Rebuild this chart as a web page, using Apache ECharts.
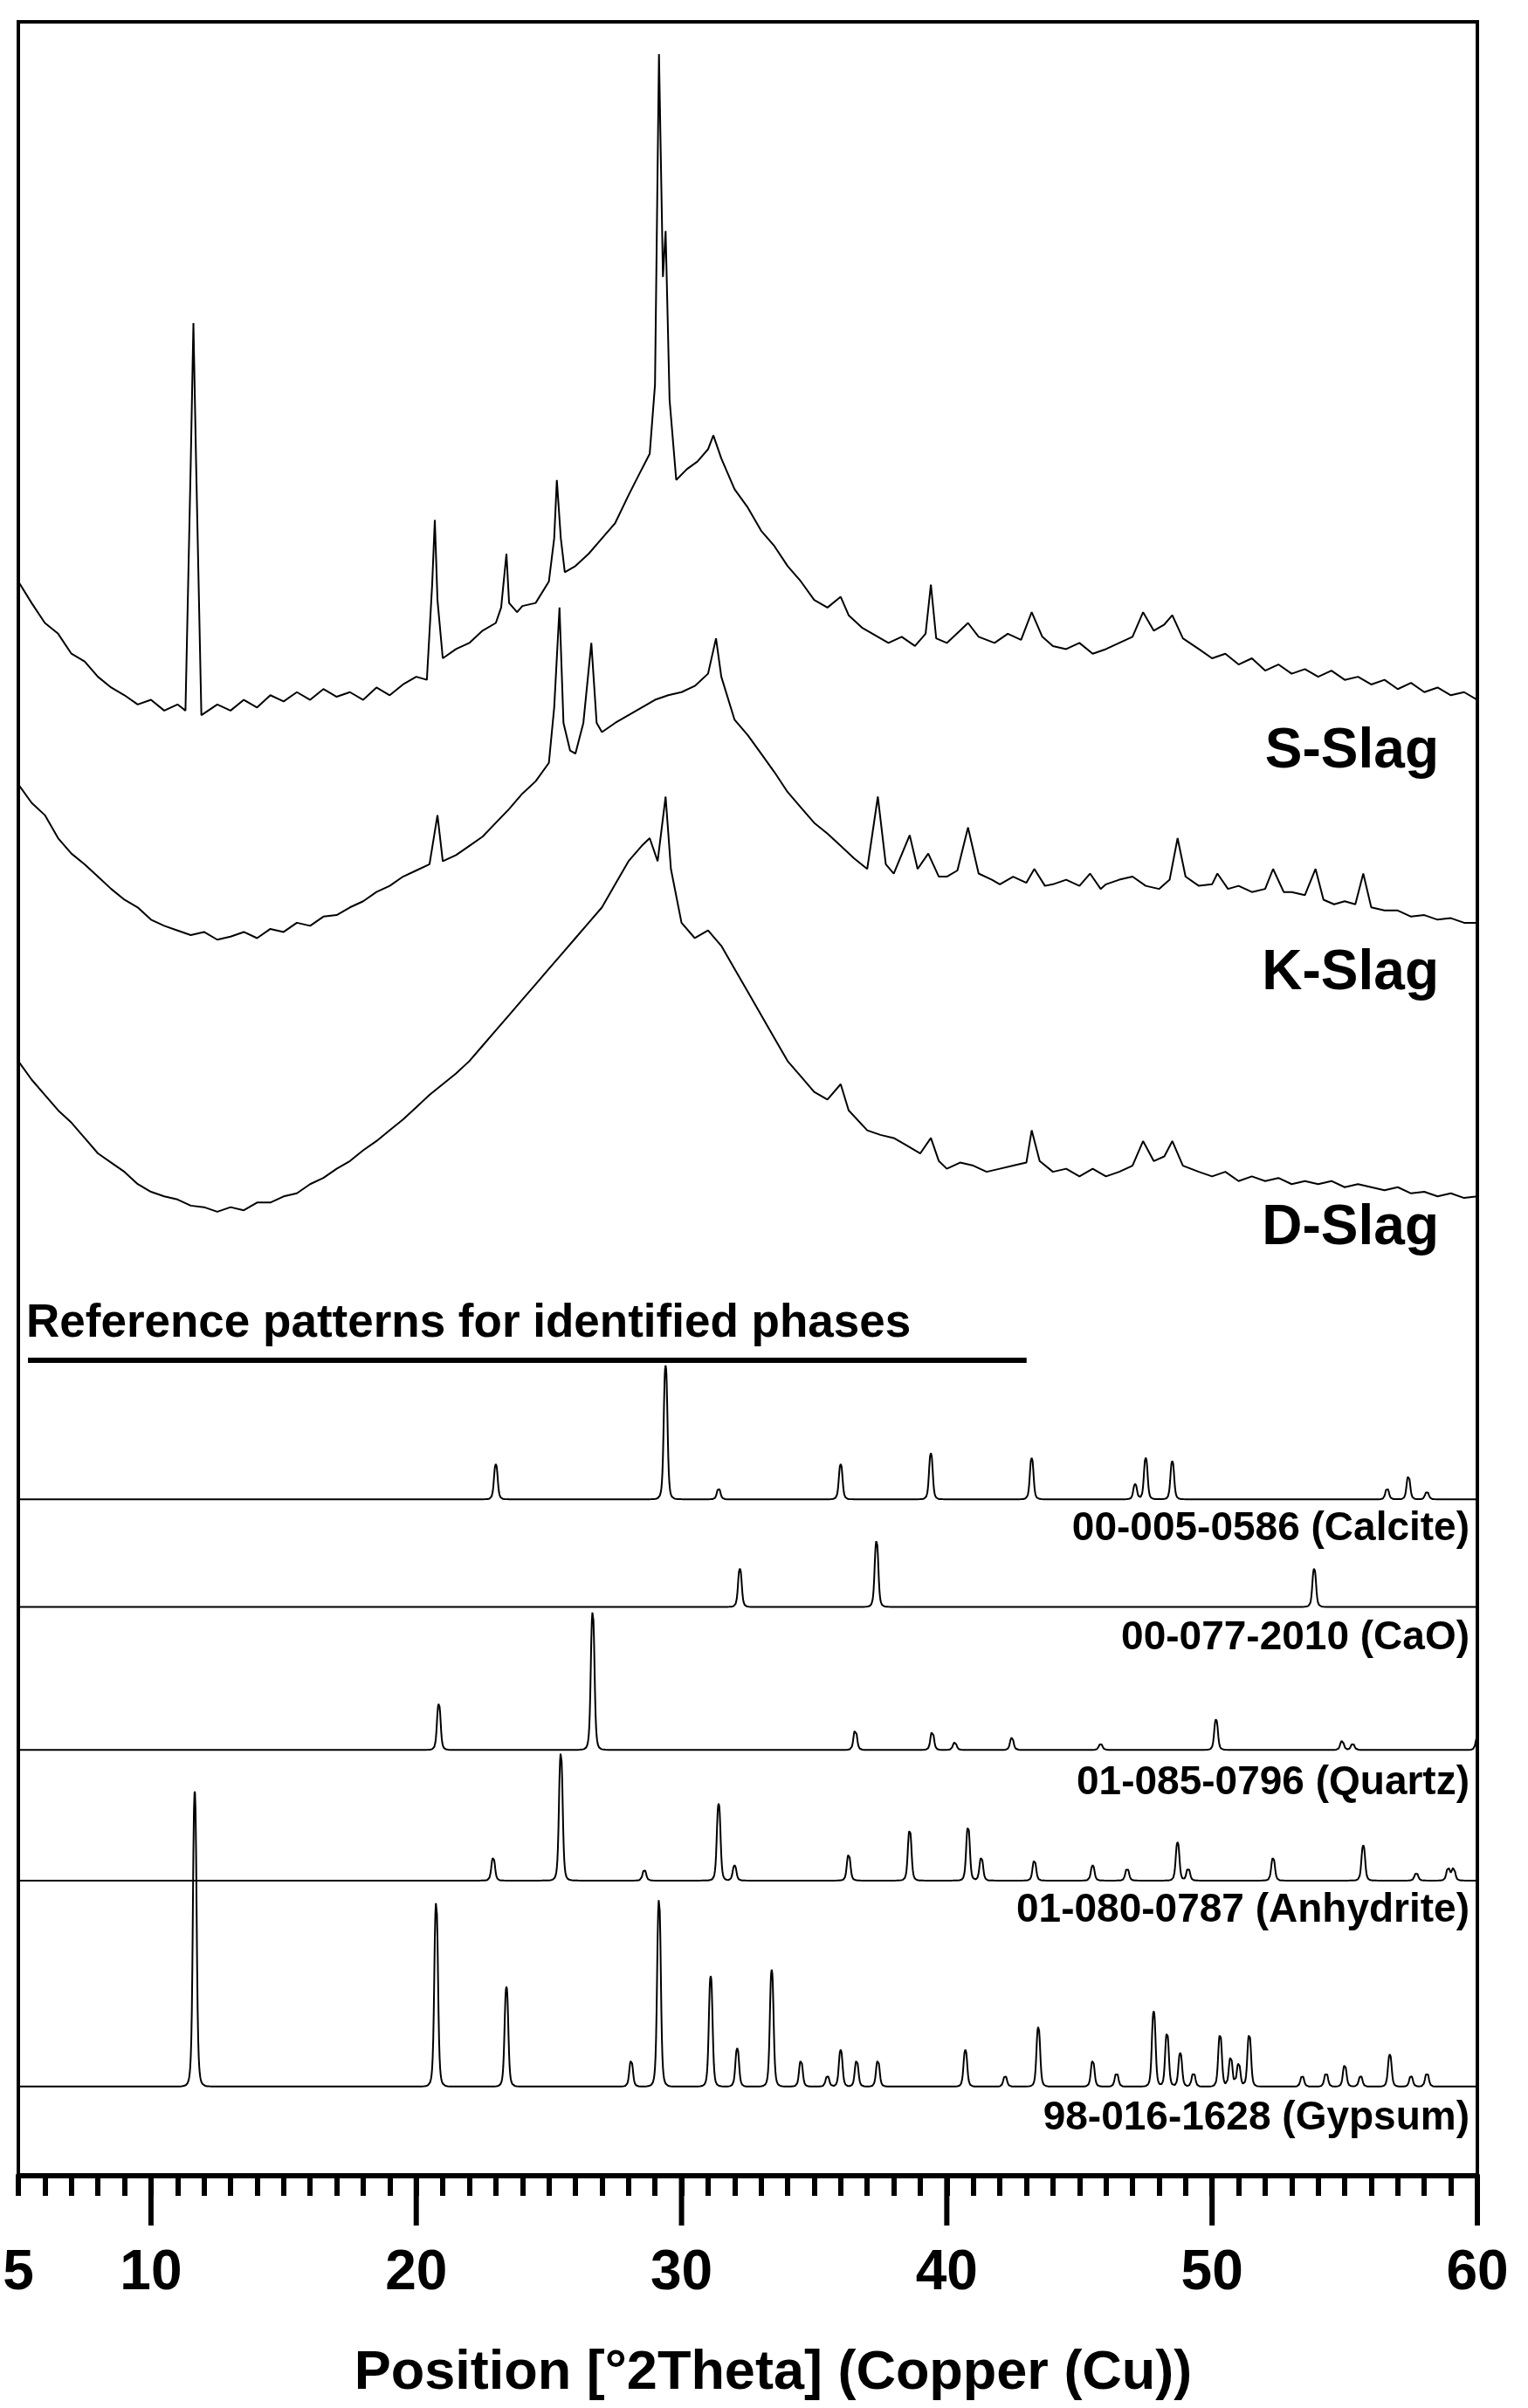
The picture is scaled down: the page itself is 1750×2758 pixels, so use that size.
<!DOCTYPE html>
<html><head><meta charset="utf-8">
<script src="https://cdn.jsdelivr.net/npm/echarts@6/dist/echarts.min.js"></script>
<style>html,body{margin:0;padding:0;background:#fff}#c{width:1750px;height:2758px}</style>
</head><body><div id="c"></div>
<script>
// vertical values are read as image-row positions (top=14, bottom=1415) of the reference
const sSlag=[[5,378],[5.5,392],[6,405],[6.5,412],[7,425],[7.5,430],[8,440],[8.5,447],[9,452],[9.5,458],[10,455],[10.5,462],[11,458],[11.3,462],[11.5,300],[11.6,210],[11.7,300],[11.9,465],[12.5,458],[13,462],[13.5,455],[14,460],[14.5,452],[15,456],[15.5,450],[16,455],[16.5,448],[17,453],[17.5,450],[18,455],[18.5,447],[19,452],[19.5,445],[20,440],[20.4,442],[20.6,380],[20.7,338],[20.8,390],[21,428],[21.5,422],[22,418],[22.5,410],[23,405],[23.2,395],[23.4,360],[23.5,392],[23.8,398],[24,394],[24.5,392],[25,378],[25.2,350],[25.3,312],[25.45,350],[25.6,372],[26,368],[26.5,360],[27,350],[27.5,340],[28,322],[28.5,305],[28.8,295],[29.0,250],[29.15,35],[29.3,180],[29.4,150],[29.55,260],[29.8,312],[30.2,305],[30.6,300],[31.0,292],[31.2,283],[31.5,298],[32,318],[32.5,330],[33,345],[33.5,355],[34,368],[34.5,378],[35,390],[35.5,395],[36,388],[36.3,400],[36.8,408],[37.2,412],[37.8,418],[38.3,414],[38.8,420],[39.2,412],[39.4,380],[39.6,415],[40,418],[40.5,410],[40.8,405],[41.2,414],[41.8,418],[42.3,412],[42.8,416],[43.2,398],[43.6,414],[44,420],[44.5,422],[45,418],[45.5,425],[46,422],[46.5,418],[47,414],[47.4,398],[47.8,410],[48.2,406],[48.5,400],[48.9,415],[49.5,422],[50,428],[50.5,425],[51,432],[51.5,428],[52,436],[52.5,432],[53,438],[53.5,435],[54,440],[54.5,436],[55,442],[55.5,440],[56,445],[56.5,442],[57,448],[57.5,444],[58,450],[58.5,447],[59,452],[59.5,450],[60,455]];
const kSlag=[[5,510],[5.5,522],[6,530],[6.5,545],[7,555],[7.5,562],[8,570],[8.5,578],[9,585],[9.5,590],[10,598],[10.5,602],[11,605],[11.5,608],[12,606],[12.5,611],[13,609],[13.5,606],[14,610],[14.5,604],[15,606],[15.5,600],[16,602],[16.5,596],[17,595],[17.5,590],[18,586],[18.5,580],[19,576],[19.5,570],[20,566],[20.5,562],[20.8,530],[21,560],[21.5,556],[22,550],[22.5,544],[23,535],[23.5,526],[24,516],[24.5,508],[25,496],[25.2,460],[25.4,395],[25.55,470],[25.8,488],[26,490],[26.3,470],[26.6,418],[26.8,470],[27,476],[27.5,470],[28,465],[28.5,460],[29,455],[29.5,452],[30,450],[30.5,446],[31,438],[31.3,415],[31.5,440],[32,468],[32.5,478],[33,490],[33.5,502],[34,515],[34.5,525],[35,535],[35.5,542],[36,550],[36.5,558],[37,565],[37.4,518],[37.7,562],[38,568],[38.6,543],[38.9,565],[39.3,555],[39.7,570],[40,570],[40.4,566],[40.8,538],[41.2,568],[41.7,572],[42,575],[42.5,570],[43,574],[43.3,565],[43.7,576],[44,575],[44.5,572],[45,576],[45.4,568],[45.8,578],[46,575],[46.5,572],[47,570],[47.5,576],[48,578],[48.4,572],[48.7,545],[49,570],[49.5,576],[50,575],[50.2,568],[50.6,578],[51,576],[51.5,580],[52,578],[52.3,565],[52.7,580],[53,580],[53.5,582],[53.9,565],[54.2,585],[54.6,588],[55,586],[55.4,588],[55.7,568],[56,590],[56.5,592],[57,592],[57.5,596],[58,595],[58.5,598],[59,597],[59.5,600],[60,600]];
const dSlag=[[5,690],[5.5,702],[6,712],[6.5,722],[7,730],[7.5,740],[8,750],[8.5,756],[9,762],[9.5,770],[10,775],[10.5,778],[11,780],[11.5,784],[12,785],[12.5,788],[13,785],[13.5,787],[14,782],[14.5,782],[15,778],[15.5,776],[16,770],[16.5,766],[17,760],[17.5,755],[18,748],[18.5,742],[19,735],[19.5,728],[20,720],[20.5,712],[21,705],[21.5,698],[22,690],[22.5,680],[23,670],[23.5,660],[24,650],[24.5,640],[25,630],[25.5,620],[26,610],[26.5,600],[27,590],[27.5,575],[28,560],[28.5,550],[28.8,545],[29.1,560],[29.4,518],[29.6,565],[30,600],[30.5,610],[31,605],[31.5,615],[32,630],[32.5,645],[33,660],[33.5,675],[34,690],[34.5,700],[35,710],[35.5,715],[36,705],[36.3,722],[37,735],[37.5,738],[38,740],[38.5,745],[39,750],[39.4,740],[39.7,755],[40,760],[40.5,756],[41,758],[41.5,762],[42,760],[42.5,758],[43,756],[43.2,735],[43.5,755],[44,762],[44.5,760],[45,765],[45.5,760],[46,765],[46.5,762],[47,758],[47.4,742],[47.8,755],[48.2,752],[48.5,742],[48.9,758],[49.5,762],[50,765],[50.5,762],[51,768],[51.5,765],[52,768],[52.5,766],[53,770],[53.5,768],[54,770],[54.5,768],[55,772],[55.5,770],[56,772],[56.5,774],[57,772],[57.5,776],[58,775],[58.5,778],[59,776],[59.5,779],[60,778]];
// reference patterns: baseline row and [position, peak row]
const calciteBase=975, calcitePeaks=[[23.0,952],[29.4,888],[31.4,968],[36.0,952],[39.4,945],[43.2,948],[47.1,965],[47.5,948],[48.5,950],[56.6,968],[57.4,960],[58.1,970]];
const caoBase=1045, caoPeaks=[[32.2,1020],[37.35,1002],[53.85,1020]];
const quartzBase=1138, quartzPeaks=[[20.85,1108],[26.65,1048],[36.55,1125],[39.45,1126],[40.3,1133],[42.45,1130],[45.8,1134],[50.15,1118],[54.9,1132],[55.3,1134],[60,1130]];
const anhydriteBase=1223, anhydritePeaks=[[22.9,1208],[25.45,1140],[28.6,1216],[31.4,1173],[32.0,1213],[36.3,1206],[38.6,1190],[40.8,1188],[41.3,1208],[43.3,1210],[45.5,1213],[46.8,1215],[48.7,1198],[49.1,1215],[52.3,1208],[55.7,1200],[57.7,1218],[58.9,1215],[59.1,1215]];
const gypsumBase=1357, gypsumPeaks=[[11.65,1165],[20.75,1237],[23.4,1292],[28.1,1340],[29.15,1235],[31.1,1285],[32.1,1332],[33.4,1281],[34.5,1340],[35.5,1350],[36.0,1333],[36.6,1340],[37.4,1340],[40.7,1333],[42.2,1350],[43.45,1318],[45.5,1340],[46.4,1348],[47.8,1308],[48.3,1322],[48.8,1335],[49.3,1348],[50.3,1323],[50.7,1338],[51.0,1342],[51.4,1323],[53.4,1350],[54.3,1348],[55.0,1343],[55.6,1350],[56.7,1336],[57.5,1350],[58.1,1348]];
const xTickLabels=[5,10,20,30,40,50,60];
const majorTicks=[10,20,30,40,50,60];
const labels=[
 {t:'S-Slag',y:493,s:64,r:102},{t:'K-Slag',y:637,s:64,r:102},{t:'D-Slag',y:803,s:64,r:102},
 {t:'00-005-0586 (Calcite)',y:997,s:46,r:67},{t:'00-077-2010 (CaO)',y:1068,s:46,r:67},
 {t:'01-085-0796 (Quartz)',y:1162,s:46,r:67},{t:'01-080-0787 (Anhydrite)',y:1245,s:46,r:67},
 {t:'98-016-1628 (Gypsum)',y:1380,s:46,r:67}];

function pattern(base,peaks){
  const xs=new Set();
  for(let i=0;i<=2750;i++) xs.add(+(5+i*0.02).toFixed(2));
  peaks.forEach(p=>[-0.06,-0.03,0,0.03,0.06].forEach(d=>xs.add(+(p[0]+d).toFixed(3))));
  const arr=[...xs].filter(x=>x>=5&&x<=60).sort((a,b)=>a-b);
  return arr.map(x=>{let y=base;peaks.forEach(p=>{const w=0.08,d=(x-p[0])/w;y-=(base-p[1])/(1+d*d*d*d*0.6+d*d*0.4);});return [x,y];});
}
const S=1750/993;
const ch=echarts.init(document.getElementById('c'),null,{renderer:'canvas'});
const L=21,R=1692,T=25,B=2492,W=R-L;
const ff='"Liberation Sans",Arial,sans-serif';
const line=(d,i)=>({type:'line',data:d,showSymbol:false,symbol:'none',lineStyle:{color:'#000',width:i||2},animation:false,z:3});
const graphics=labels.map(l=>({type:'text',right:l.r,top:(l.y)*S-l.s*0.62,style:{text:l.t,font:'bold '+l.s+'px '+ff,fill:'#000',textAlign:'right'}}));
graphics.push({type:'text',left:30,top:866*S-36,style:{text:'Reference patterns for identified phases',font:'bold 53px '+ff,fill:'#000'}});
graphics.push({type:'rect',shape:{x:32,y:884*S-3,width:(667-18)*S,height:6},style:{fill:'#000'}});
ch.setOption({
 animation:false,
 grid:{left:L,top:T,width:W,height:B-T,show:true,borderColor:'#000',borderWidth:4},
 xAxis:{type:'value',min:5,max:60,interval:1,position:'bottom',
   axisLine:{show:true,onZero:false,lineStyle:{color:'#000',width:6}},
   axisTick:{show:true,length:23,inside:false,lineStyle:{color:'#000',width:6}},
   axisLabel:{show:true,margin:80,formatter:v=>xTickLabels.includes(v)?String(v):'',color:'#000',fontSize:64,fontWeight:'bold',fontFamily:ff},
   splitLine:{show:false},
   name:'Position [°2Theta] (Copper (Cu))',nameLocation:'middle',nameGap:195,
   nameTextStyle:{color:'#000',fontSize:63,fontWeight:'bold',fontFamily:ff,padding:[0,0,0,58]}},
 yAxis:{type:'value',inverse:true,min:14,max:1415,show:false},
 graphic:graphics,
 series:[line(sSlag),line(kSlag),line(dSlag),
  line(pattern(calciteBase,calcitePeaks)),line(pattern(caoBase,caoPeaks)),
  line(pattern(quartzBase,quartzPeaks)),line(pattern(anhydriteBase,anhydritePeaks)),
  line(pattern(gypsumBase,gypsumPeaks)),
  {type:'custom',clip:false,z:5,data:majorTicks.map(v=>[v]),encode:{x:0},
   renderItem:(params,api)=>{const p=api.coord([api.value(0),1415]);
     return {type:'line',shape:{x1:p[0],y1:p[1],x2:p[0],y2:p[1]+57},style:{stroke:'#000',lineWidth:6}};}}]
});
</script></body></html>
